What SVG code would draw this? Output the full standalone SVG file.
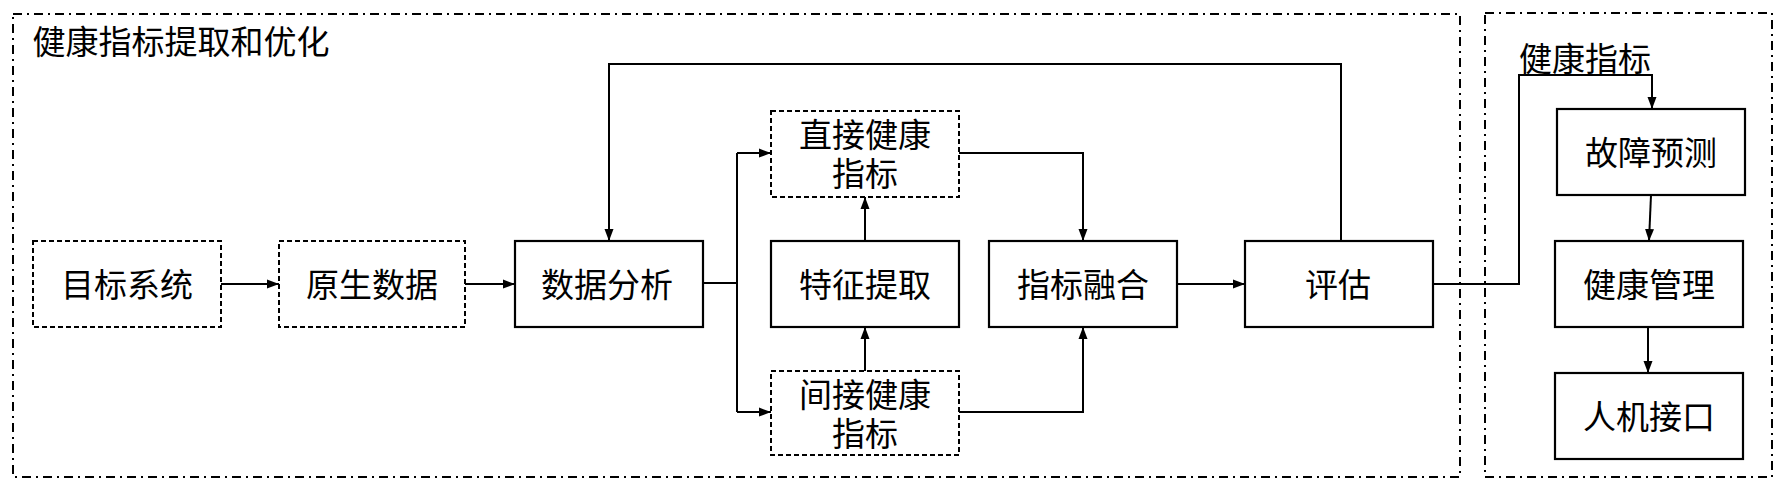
<svg xmlns="http://www.w3.org/2000/svg" width="1782" height="490" viewBox="0 0 1782 490">
<style>
.frame{fill:none;stroke:#000;stroke-width:2;stroke-dasharray:9,5,2,5}
.box{fill:#fff;stroke:#000;stroke-width:2.2}
.dbox{fill:#fff;stroke:#000;stroke-width:2;stroke-dasharray:5,3}
.t{font-family:"Noto Sans CJK SC","Noto Sans CJK TC",sans-serif;font-size:33px;fill:#000;text-anchor:middle;dominant-baseline:central}
.t2{font-family:"Liberation Sans","Noto Sans CJK SC",sans-serif;font-size:33px;fill:#000;text-anchor:middle}
.ln{fill:none;stroke:#000;stroke-width:2}
</style>
<defs>
<marker id="ah" viewBox="0 0 12 10" refX="12" refY="5" markerWidth="12" markerHeight="10" markerUnits="userSpaceOnUse" orient="auto">
<path d="M0,0.5 L12,5 L0,9.5 Z" fill="#000"/>
</marker>
</defs>
<rect width="1782" height="490" fill="#fff"/>
<g id="frames">
<rect class="frame" x="13" y="14" width="1447" height="463"/>
<rect class="frame" x="1485" y="13" width="287" height="464"/>
<text class="t" x="181" y="40">健康指标提取和优化</text>
</g>
<g id="connectors">
<path class="ln" d="M221,284 H279" marker-end="url(#ah)"/>
<path class="ln" d="M465,284 H515" marker-end="url(#ah)"/>
<path class="ln" d="M1341,241 V64 H609 V241" marker-end="url(#ah)"/>
<path class="ln" d="M703,283 H737"/>
<path class="ln" d="M737,153 V412"/>
<path class="ln" d="M737,153 H771" marker-end="url(#ah)"/>
<path class="ln" d="M737,412 H771" marker-end="url(#ah)"/>
<path class="ln" d="M865,241 V197" marker-end="url(#ah)"/>
<path class="ln" d="M865,371 V327" marker-end="url(#ah)"/>
<path class="ln" d="M959,153 H1083 V241" marker-end="url(#ah)"/>
<path class="ln" d="M959,412 H1083 V327" marker-end="url(#ah)"/>
<path class="ln" d="M1177,284 H1245" marker-end="url(#ah)"/>
<path class="ln" d="M1433,284 H1519 V75 H1652 V109" marker-end="url(#ah)"/>
<text class="t" x="1585" y="57">健康指标</text>
<path class="ln" d="M1651,195 L1649,241" marker-end="url(#ah)"/>
<path class="ln" d="M1648,327 V373" marker-end="url(#ah)"/>
</g>
<g id="n-target"><rect class="dbox" x="33" y="241" width="188" height="86"/><text class="t" x="127" y="283">目标系统</text></g>
<g id="n-raw"><rect class="dbox" x="279" y="241" width="186" height="86"/><text class="t" x="372" y="283">原生数据</text></g>
<g id="n-analysis"><rect class="box" x="515" y="241" width="188" height="86"/><text class="t" x="607" y="283">数据分析</text></g>
<g id="n-direct"><rect class="dbox" x="771" y="111" width="188" height="86"/><text class="t2"><tspan x="865" y="147">直接健康</tspan><tspan x="865" y="186">指标</tspan></text></g>
<g id="n-feature"><rect class="box" x="771" y="241" width="188" height="86"/><text class="t" x="865" y="283">特征提取</text></g>
<g id="n-indirect"><rect class="dbox" x="771" y="371" width="188" height="84"/><text class="t2"><tspan x="865" y="407">间接健康</tspan><tspan x="865" y="446">指标</tspan></text></g>
<g id="n-fusion"><rect class="box" x="989" y="241" width="188" height="86"/><text class="t" x="1083" y="283">指标融合</text></g>
<g id="n-eval"><rect class="box" x="1245" y="241" width="188" height="86"/><text class="t" x="1338" y="283">评估</text></g>
<g id="n-fault"><rect class="box" x="1557" y="109" width="188" height="86"/><text class="t" x="1651" y="151">故障预测</text></g>
<g id="n-health"><rect class="box" x="1555" y="241" width="188" height="86"/><text class="t" x="1649" y="283">健康管理</text></g>
<g id="n-hmi"><rect class="box" x="1555" y="373" width="188" height="86"/><text class="t" x="1649" y="415">人机接口</text></g>
</svg>
